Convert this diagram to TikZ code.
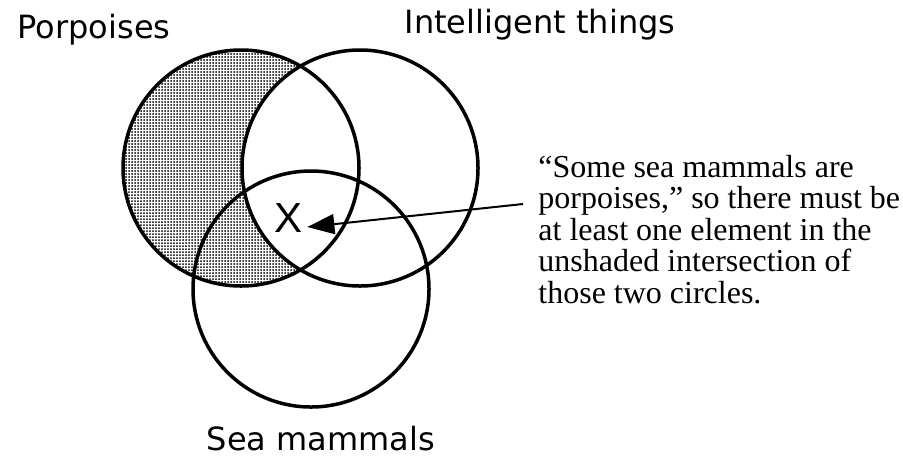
\documentclass[tikz,border=0pt]{standalone}
\usepackage{fontspec}
\setmainfont{Liberation Serif}
\newfontfamily\labelfont{DejaVu Sans}
\newfontfamily\markfont{Liberation Sans}
\usetikzlibrary{arrows.meta, patterns.meta}

\begin{document}
\begin{tikzpicture}[x=0.5pt, y=-0.5pt,
        setcircle/.style={draw, circle, line width=1.75pt, minimum size=118pt, inner sep=0pt},
        setlabel/.style={font=\labelfont\fontsize{16pt}{19pt}\selectfont, anchor=base, inner sep=0pt},
        note/.style={font=\fontsize{16pt}{15.7pt}\selectfont, align=left, anchor=base west, inner sep=0pt},
        arrow/.style={-{Triangle[length=13.5pt, width=10pt]}, line width=1pt},
        dotfill/.style={pattern={Dots[distance=1.5pt, radius=0.5pt]}}
    ]
    \useasboundingbox (0,0) rectangle (903,462);

    \coordinate (cPorp) at (241,168);
    \coordinate (cIntel) at (360,168);
    \coordinate (cSea) at (311,289);

    % porpoises that are not intelligent
    \begin{scope}
        \clip (cPorp) circle[radius=59pt];
        \fill[dotfill, even odd rule] (cPorp) circle[radius=59pt] (cIntel) circle[radius=59pt];
    \end{scope}

    \node[setcircle] (porp) at (cPorp) {};
    \node[setcircle] (intel) at (cIntel) {};
    \node[setcircle] (sea) at (cSea) {};

    \node[setlabel] (porplabel) at (94,38) {Porpoises};
    \node[setlabel] (intellabel) at (540,33) {Intelligent things};
    \node[setlabel] (sealabel) at (321,450) {Sea mammals};

    \node[font=\markfont\fontsize{21pt}{24pt}\selectfont, inner sep=0pt] (xmark) at (289,218) {X};

    % base of the last line
    \node[note] (explain) at (538,303) {``Some sea mammals are\\porpoises,'' so there must be\\at least one element in the\\unshaded intersection of\\those two circles.};

    \coordinate (tail) at (523,204);
    \draw[arrow] (tail) -- ([shift={(4,9)}]xmark.east);
\end{tikzpicture}
\end{document}
